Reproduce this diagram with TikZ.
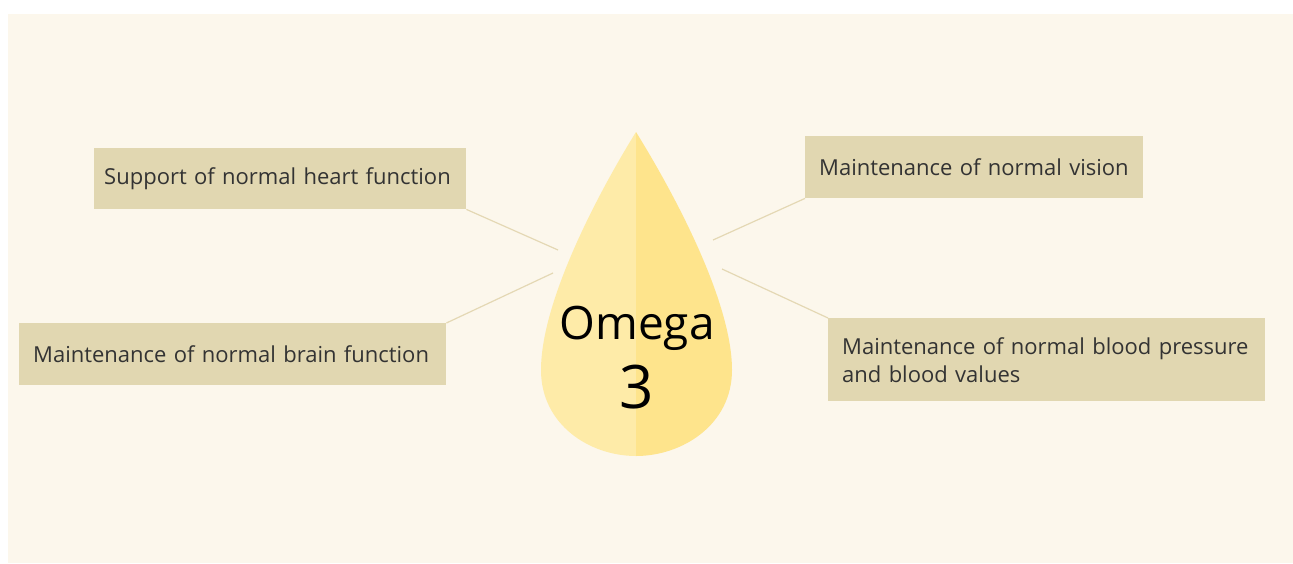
\documentclass[tikz,border=0pt]{standalone}
\usepackage{fontspec}
\setmainfont{Open Sans}
\definecolor{bgcream}{RGB}{252,247,236}
\definecolor{boxtan}{RGB}{225,215,177}
\definecolor{linktan}{RGB}{228,216,180}
\definecolor{dropleft}{RGB}{254,235,168}
\definecolor{dropright}{RGB}{254,228,140}
\definecolor{txtgrey}{RGB}{51,51,51}
\begin{document}
\begin{tikzpicture}[x=1pt,y=-1pt,
    fact/.style={fill=boxtan,text=txtgrey,font=\fontsize{22}{28}\selectfont,
      inner xsep=14pt, inner ysep=0pt, align=left, anchor=north west},
    lnk/.style={draw=linktan,line width=1.2pt}]
  \useasboundingbox (0,0) rectangle (1293,563);
  \fill[bgcream] (8,14) rectangle (1293,563);
  % the drop
  \fill[dropleft] (636,132) .. controls (600,190) and (541,300) .. (541,370)
    .. controls (541,425) and (590,456) .. (636,456) -- cycle;
  \fill[dropright] (636,132) .. controls (672,190) and (732,300) .. (732,370)
    .. controls (732,425) and (682,456) .. (636,456) -- cycle;
  \node[font=\fontsize{46}{56}\selectfont,anchor=base] (omega) at (637,339) {Omega};
  \node[font=\fontsize{60}{70}\selectfont,anchor=base] (three) at (637,408) {3};
  % the facts
  \node[fact,inner xsep=10pt,minimum width=372pt,minimum height=61pt,text width=352pt] (heart) at (94,148) {Support of normal heart function};
  \node[fact,minimum width=427pt,minimum height=62pt,text width=399pt] (brain) at (19,323) {Maintenance of normal brain function};
  \node[fact,minimum width=338pt,minimum height=62pt,text width=310pt] (vision) at (805,136) {Maintenance of normal vision};
  \node[fact,minimum width=437pt,minimum height=83pt,text width=409pt] (blood) at (828,318) {Maintenance of normal blood pressure\\and blood values};
  \coordinate (heartend) at (558,250);
  \coordinate (brainend) at (553,273);
  \coordinate (visionend) at (713,240);
  \coordinate (bloodend) at (722,269);
  \draw[lnk] (heart.south east) -- (heartend);
  \draw[lnk] (brain.north east) -- (brainend);
  \draw[lnk] (vision.south west) -- (visionend);
  \draw[lnk] (blood.north west) -- (bloodend);
\end{tikzpicture}
\end{document}
